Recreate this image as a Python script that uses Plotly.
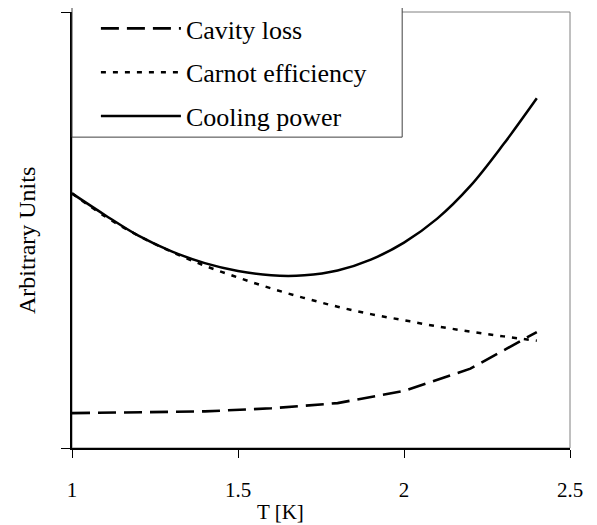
import plotly.graph_objects as go

# dados (unidades arbitrárias)
T_FINO = [1.0, 1.1, 1.2, 1.3, 1.4, 1.5, 1.6, 1.7, 1.8, 1.9, 2.0, 2.1, 2.2, 2.3, 2.4]
COOLING = [0.584, 0.534, 0.487, 0.451, 0.424, 0.406, 0.396, 0.396, 0.407, 0.432,
           0.471, 0.526, 0.601, 0.697, 0.802]
CARNOT = [0.584, 0.531, 0.487, 0.450, 0.418, 0.391, 0.366, 0.344, 0.324, 0.307,
          0.293, 0.279, 0.267, 0.256, 0.246]
T_CAV = [1.0, 1.2, 1.4, 1.6, 1.8, 2.0, 2.2, 2.4]
CAVITY = [0.080, 0.082, 0.084, 0.091, 0.103, 0.131, 0.182, 0.266]

X_TICKS = [1, 1.5, 2, 2.5]
X_LABELS = ["1", "1.5", "2", "2.5"]

FONTE = "Liberation Serif, Times New Roman, serif"

fig = go.Figure()
fig.add_scatter(x=T_CAV, y=CAVITY, name="Cavity loss", mode="lines",
                legendgroup="a",
                line=dict(color="black", width=2.6, dash="18px,8px"))
fig.add_scatter(x=T_FINO, y=CARNOT, name="Carnot efficiency", mode="lines",
                legendgroup="b",
                line=dict(color="black", width=2.5, dash="5px,7px", shape="spline"))
fig.add_scatter(x=T_FINO, y=COOLING, name="Cooling power", mode="lines",
                legendgroup="c",
                line=dict(color="black", width=2.5, shape="spline"))

# moldura cinza (topo e direita)
fig.add_shape(type="rect", xref="paper", yref="paper", x0=0, x1=1, y0=0, y1=1,
              line=dict(color="#808080", width=1), layer="below")
# caixa da legenda
fig.add_shape(type="rect", xref="paper", yref="paper", x0=0, x1=0.663,
              y0=0.713, y1=1.016, fillcolor="white",
              line=dict(color="#404040", width=1), layer="above")

# títulos dos eixos como anotações (posição deslocada como no original)
fig.add_annotation(text="T [K]", xref="paper", yref="paper", x=0.418, y=-0.147,
                   xanchor="center", yanchor="middle", showarrow=False,
                   font=dict(family=FONTE, size=21, color="black"))
fig.add_annotation(text="Arbitrary Units", xref="paper", yref="paper",
                   x=-0.0904, y=0.477, textangle=-90,
                   xanchor="center", yanchor="middle", showarrow=False,
                   font=dict(family=FONTE, size=24, color="black"))

# a página tem margem de 8 px no body: figura menor e margens compensadas
fig.update_layout(
    width=589, height=517,
    margin=dict(l=64, r=27, t=4, b=77, autoexpand=False),
    paper_bgcolor="white", plot_bgcolor="white",
    font=dict(family=FONTE, size=21, color="black"),
    showlegend=True,
    legend=dict(x=0.048, y=1.016, xanchor="left", yanchor="top",
                bgcolor="rgba(0,0,0,0)", borderwidth=0,
                itemwidth=80, traceorder="grouped", tracegroupgap=7,
                font=dict(family=FONTE, size=26, color="black")),
    xaxis=dict(range=[1, 2.5], tickvals=X_TICKS, ticktext=X_LABELS,
               showgrid=False, zeroline=False, showline=True,
               linecolor="black", linewidth=1.5,
               ticks="outside", ticklen=8, tickcolor="black", tickwidth=1,
               ticklabelstandoff=14),
    xaxis2=dict(range=[1, 2.5], overlaying="x", anchor="y", side="bottom",
                tickvals=X_TICKS, showticklabels=False, showgrid=False,
                zeroline=False, showline=False,
                ticks="inside", ticklen=8, tickcolor="black", tickwidth=1),
    yaxis=dict(range=[0, 1], tickvals=[0, 1], showticklabels=False,
               showgrid=False, zeroline=False, showline=True,
               linecolor="black", linewidth=1.5,
               ticks="outside", ticklen=9, tickcolor="black", tickwidth=1),
)

fig.write_html("out.html")
